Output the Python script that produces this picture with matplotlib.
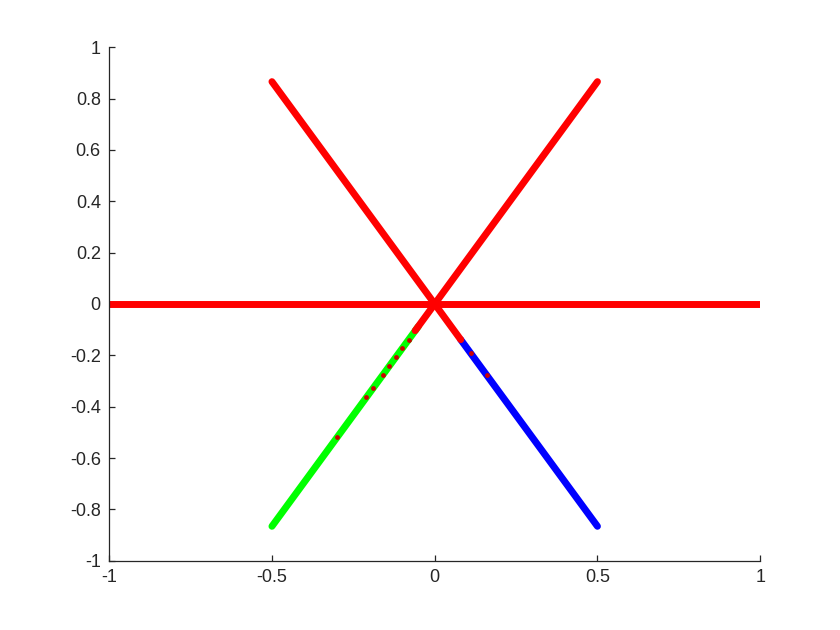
import matplotlib.pyplot as plt
import numpy as np

plt.rcParams['font.family'] = ['Liberation Sans', 'DejaVu Sans']

# segment end points (x0, y0, x1, y1) and colour
seg_x0 = [-1.0, 0.0, 0.0, 0.0, -0.5, 0.5, 0.0, 0.0]
seg_y0 = [0.0, 0.0, 0.0, 0.0, -0.866, -0.866, 0.0, 0.0]
seg_x1 = [1.0, 0.5, -0.5, 0.0, -0.05, 0.08, -0.06, 0.08]
seg_y1 = [0.0, 0.866, 0.866, 0.0, -0.087, -0.139, -0.104, -0.139]
seg_col = ['#ff0000', '#ff0000', '#ff0000', '#ff0000',
           '#00ff00', '#0000ff', '#ff0000', '#ff0000']

# stray red points on the green and blue rays
dot_x = [-0.08, -0.10, -0.12, -0.14, -0.16, -0.19, -0.21, -0.30, 0.11, 0.16]
dot_y = [-0.139, -0.173, -0.208, -0.242, -0.277, -0.329, -0.364, -0.520, -0.191, -0.277]

ticks = [-1, -0.8, -0.6, -0.4, -0.2, 0, 0.2, 0.4, 0.6, 0.8, 1]
xticks = [-1, -0.5, 0, 0.5, 1]

fig = plt.figure(figsize=(8.4, 6.3), dpi=100)
ax = fig.add_axes([0.13, 0.11, 0.775, 0.815])

for x0, y0, x1, y1, c in zip(seg_x0, seg_y0, seg_x1, seg_y1, seg_col):
    ax.plot([x0, x1], [y0, y1], color=c, lw=5, solid_capstyle='round')
ax.scatter(dot_x, dot_y, s=6, color='#cc0000', zorder=3)

ax.set_xlim(-1, 1)
ax.set_ylim(-1, 1)
ax.set_xticks(xticks)
ax.set_xticklabels(['-1', '-0.5', '0', '0.5', '1'])
ax.set_yticks(ticks)
ax.set_yticklabels(['-1', '-0.8', '-0.6', '-0.4', '-0.2', '0', '0.2', '0.4', '0.6', '0.8', '1'])

for s in ['top', 'right']:
    ax.spines[s].set_visible(False)
for s in ['left', 'bottom']:
    ax.spines[s].set_color('#262626')
    ax.spines[s].set_linewidth(0.9)
ax.tick_params(direction='in', length=4, width=0.9, color='#262626',
               labelcolor='#262626', labelsize=13, pad=6)

fig.savefig('out.png')
